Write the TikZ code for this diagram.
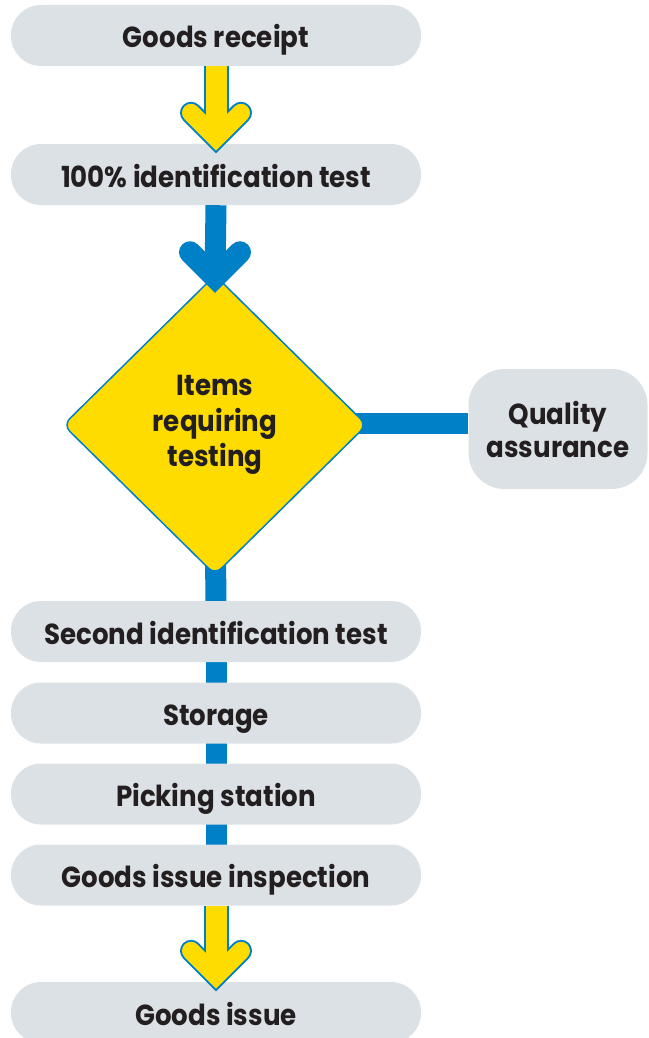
\documentclass[tikz,border=0pt]{standalone}
\usepackage{fontspec}
\setmainfont{Poppins}[FakeStretch=0.9]
\usetikzlibrary{shapes.geometric,backgrounds}

\definecolor{boxgray}{HTML}{DCE1E6}
\definecolor{flowblue}{HTML}{0080C6}
\definecolor{flowyellow}{HTML}{FFDC00}
\definecolor{inktext}{HTML}{231F20}

\begin{document}
\begin{tikzpicture}[x=1pt,y=1pt,line join=round,
  card/.style={fill=boxgray,rounded corners=30pt,minimum width=410pt,minimum height=61pt,
    inner sep=0pt,text=inktext,align=center,font=\bfseries\fontsize{29}{34}\selectfont},
  stage/.style={card,text height=25pt,text depth=0pt},
  decision/.style={diamond,draw=flowblue,line width=1.5pt,fill=flowyellow,rounded corners=9pt,
    minimum width=304pt,minimum height=300pt,inner sep=0pt,text=inktext,align=center,
    font=\bfseries\fontsize{29}{35.5}\selectfont},
  link/.style={draw=flowblue,line width=21pt}]
\useasboundingbox (0,0) rectangle (648,-1038);

% process steps
\node[stage] (receipt) at (216,-35.5) {Goods receipt};
\node[stage] (ident) at (216,-174.5) {100\% identification test};
\node[decision] (testing) at (215,-425) {Items\\requiring\\testing};
\node[card,minimum width=179pt,minimum height=120pt,rounded corners=36pt,
  font=\bfseries\fontsize{29}{33}\selectfont] (qa) at (558,-429) {Quality\\assurance};
\node[stage] (second) at (216,-631.5) {Second identification test};
\node[stage] (storage) at (216,-713) {Storage};
\node[stage] (picking) at (216,-794) {Picking station};
\node[stage] (inspection) at (216,-875) {Goods issue inspection};
\node[stage] (issue) at (216,-1012.5) {Goods issue};

% plain connectors, behind the boxes
\begin{scope}[on background layer]
\draw[link] (testing.center) ++(0,1.5) -- (qa.west |- 0,-423.5);
\draw[link] (testing.center) -- (second.center);
\draw[link] (second.center) -- (inspection.center);
\end{scope}

% blue arrow into the decision
\draw[flowblue,line width=21pt] (ident.south) -- ([yshift=-3pt]testing.north);
\draw[flowblue,line width=22pt,line cap=round,line join=miter]
  ([xshift=-25pt,yshift=22pt]testing.north) -- ([yshift=-3pt]testing.north) -- ([xshift=25pt,yshift=22pt]testing.north);

% yellow arrows with blue rim
\foreach \from/\to in {receipt/ident,inspection/issue}{
  \draw[flowblue,line width=25pt] (\from.south) -- ([yshift=6pt]\to.north);
  \draw[flowblue,line width=22pt,line cap=round,line join=miter]
    ([xshift=-25pt,yshift=31pt]\to.north) -- ([yshift=6pt]\to.north) -- ([xshift=25pt,yshift=31pt]\to.north);
  \draw[flowyellow,line width=21pt] (\from.south) -- ([yshift=6pt]\to.north);
  \draw[flowyellow,line width=18pt,line cap=round,line join=miter]
    ([xshift=-25pt,yshift=31pt]\to.north) -- ([yshift=6pt]\to.north) -- ([xshift=25pt,yshift=31pt]\to.north);
}
\end{tikzpicture}
\end{document}
